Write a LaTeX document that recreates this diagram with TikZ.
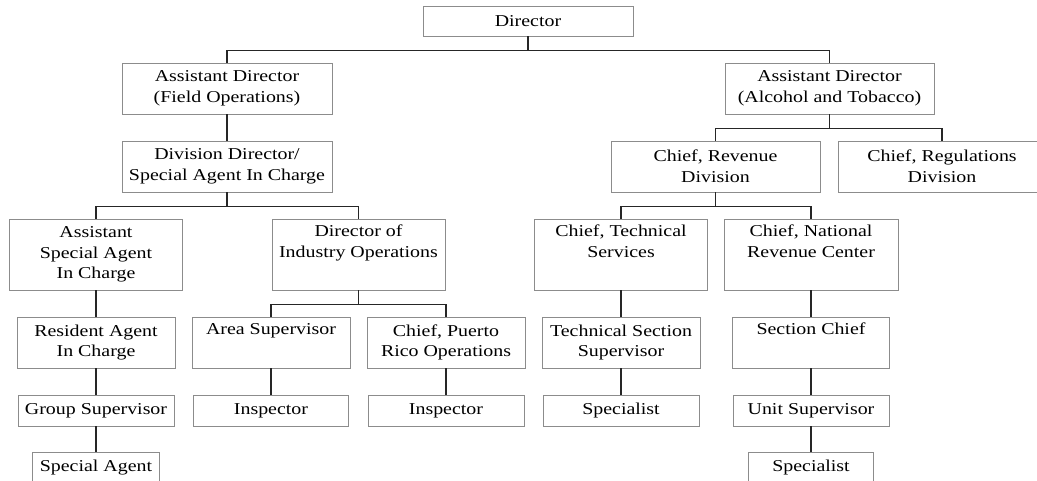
\documentclass[tikz,border=0pt]{standalone}
\usepackage{fontspec}
\setmainfont{Liberation Serif}[FakeStretch=1.2]
\tikzset{
  post/.style={draw=black!45, line width=0.9pt, fill=white, align=center, inner sep=0pt,
    font=\fontsize{16.6}{20.6}\selectfont},
  wire/.style={line width=1.2pt, draw=black!85},
}
\begin{document}
\begin{tikzpicture}[x=1pt,y=-1pt]
			\useasboundingbox (0,0) rectangle (1037,481);
			\clip (0,0) rectangle (1037,481);
			\node[post, minimum width=210pt, minimum height=30pt] (dir) at (528,21) {Director};
			\node[post, minimum width=210pt, minimum height=51pt] (adfo) at (227,88.5) {Assistant Director\\(Field Operations)};
			\node[post, minimum width=209pt, minimum height=51pt] (adat) at (829.5,88.5) {Assistant Director\\(Alcohol and Tobacco)};
			\node[post, minimum width=210pt, minimum height=51pt] (ddsac) at (227,166.5) {Division Director/\\Special Agent In Charge};
			\node[post, minimum width=209pt, minimum height=51pt] (crev) at (715.5,166.5) {Chief, Revenue\\Division};
			\node[post, minimum width=208pt, minimum height=51pt] (creg) at (942,166.5) {Chief, Regulations\\Division};
			\node[post, minimum width=173pt, minimum height=71pt] (asac) at (96,254.5) {Assistant\\Special Agent\\In Charge};
			\node[post, minimum width=173pt, minimum height=71pt] (dio) at (358.5,254.5) {Director of\\Industry Operations\\\strut};
			\node[post, minimum width=173pt, minimum height=71pt] (cts) at (621,254.5) {Chief, Technical\\Services\\\strut};
			\node[post, minimum width=174pt, minimum height=71pt] (cnrc) at (811,254.5) {Chief, National\\Revenue Center\\\strut};
			\node[post, minimum width=158pt, minimum height=51pt] (raic) at (96,342.5) {Resident Agent\\In Charge};
			\node[post, minimum width=158pt, minimum height=51pt] (areasup) at (271,342.5) {Area Supervisor\\\strut};
			\node[post, minimum width=158pt, minimum height=51pt] (cpro) at (446,342.5) {Chief, Puerto\\Rico Operations};
			\node[post, minimum width=158pt, minimum height=51pt] (tss) at (621,342.5) {Technical Section\\Supervisor};
			\node[post, minimum width=157pt, minimum height=51pt] (secchief) at (811,342.5) {Section Chief\\\strut};
			\node[post, minimum width=156pt, minimum height=31pt] (grpsup) at (96,410.5) {Group Supervisor};
			\node[post, minimum width=155pt, minimum height=31pt] (insp1) at (271,410.5) {Inspector};
			\node[post, minimum width=156pt, minimum height=31pt] (insp2) at (446,410.5) {Inspector};
			\node[post, minimum width=156pt, minimum height=31pt] (spec1) at (621,410.5) {Specialist};
			\node[post, minimum width=156pt, minimum height=31pt] (unitsup) at (811,410.5) {Unit Supervisor};
			\node[post, minimum width=127pt, minimum height=31pt] (sa) at (96,467.5) {Special Agent};
			\node[post, minimum width=125pt, minimum height=31pt] (spec2) at (811,467.5) {Specialist};
			\draw[wire] (dir.south) -- ++(0,14) coordinate (b0);
			\draw[wire] (adfo.north) |- (b0) -| (adat.north);
			\draw[wire] (adfo.south) -- (ddsac.north);
			\draw[wire] (ddsac.south) -- ++(0,14) coordinate (b1);
			\draw[wire] (asac.north) |- (b1) -| (dio.north);
			\draw[wire] (adat.south) -- ++(0,14) coordinate (b2);
			\draw[wire] (crev.north) |- (b2) -| (creg.north);
			\draw[wire] (crev.south) -- ++(0,14) coordinate (b3);
			\draw[wire] (cts.north) |- (b3) -| (cnrc.north);
			\draw[wire] (dio.south) -- ++(0,14) coordinate (b4);
			\draw[wire] (areasup.north) |- (b4) -| (cpro.north);
			\draw[wire] (asac.south) -- (raic.north);
			\draw[wire] (raic.south) -- (grpsup.north);
			\draw[wire] (grpsup.south) -- (sa.north);
			\draw[wire] (areasup.south) -- (insp1.north);
			\draw[wire] (cpro.south) -- (insp2.north);
			\draw[wire] (cts.south) -- (tss.north);
			\draw[wire] (tss.south) -- (spec1.north);
			\draw[wire] (cnrc.south) -- (secchief.north);
			\draw[wire] (secchief.south) -- (unitsup.north);
			\draw[wire] (unitsup.south) -- (spec2.north);
		\end{tikzpicture}
\end{document}
